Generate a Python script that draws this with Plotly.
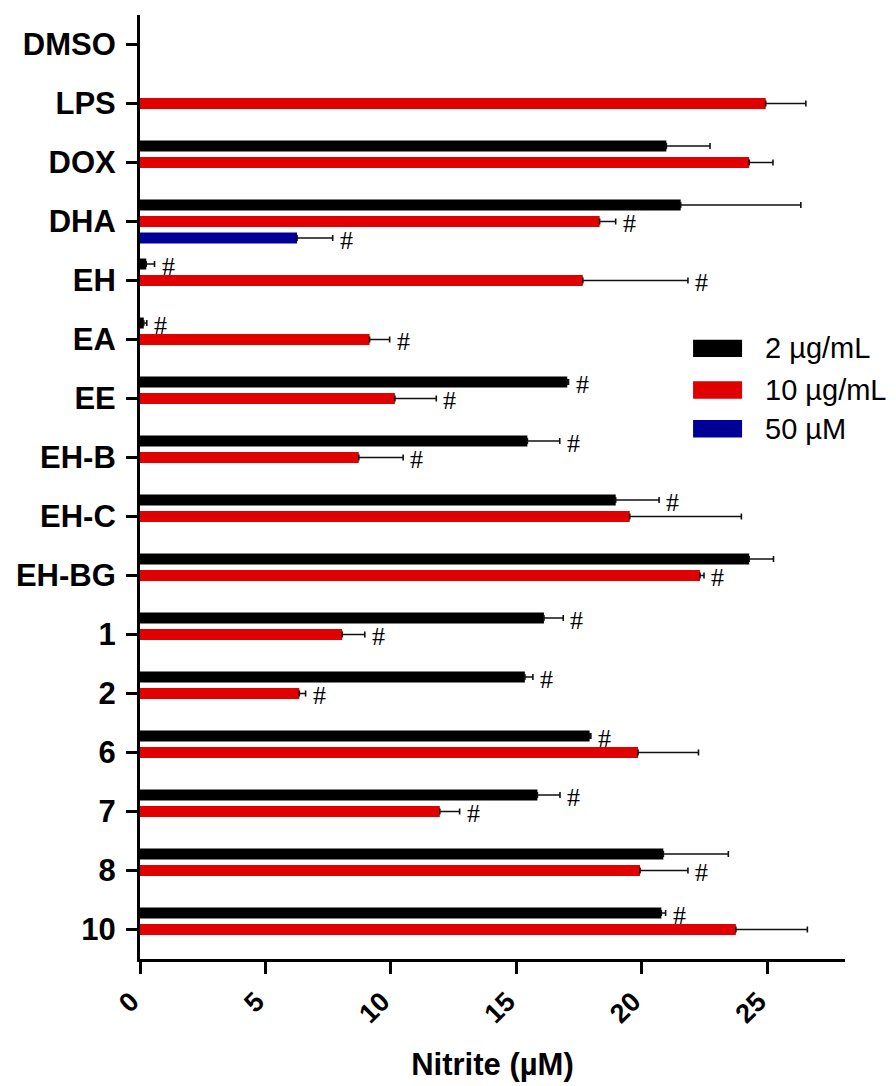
import plotly.graph_objects as go

categories = ["DMSO", "LPS", "DOX", "DHA", "EH", "EA", "EE", "EH-B", "EH-C",
              "EH-BG", "1", "2", "6", "7", "8", "10"]

# 2 µg/mL (black)
black_vals = [None, None, 20.98, 21.55, 0.25, 0.15, 17.03, 15.44, 18.96,
              24.28, 16.10, 15.34, 17.92, 15.84, 20.86, 20.78]
black_err = [0, 0, 1.74, 4.79, 0.33, 0.12, 0.05, 1.29, 1.73,
             0.97, 0.77, 0.32, 0.05, 0.90, 2.59, 0.17]
black_hash = [False, False, False, False, True, True, True, True, True,
              False, True, True, True, True, False, True]

# 10 µg/mL (red)
red_vals = [None, 24.94, 24.28, 18.32, 17.65, 9.15, 10.16, 8.72, 19.52,
            22.32, 8.06, 6.35, 19.85, 11.95, 19.93, 23.75]
red_err = [0, 1.60, 0.95, 0.64, 4.19, 0.80, 1.65, 1.77, 4.45,
           0.16, 0.90, 0.25, 2.41, 0.79, 1.91, 2.85]
red_hash = [False, False, False, True, True, True, True, True, False,
            True, True, True, False, True, True, False]

# 50 µM (blue)
blue_vals = [None, None, None, 6.26, None, None, None, None, None,
             None, None, None, None, None, None, None]
blue_err = [0, 0, 0, 1.42, 0, 0, 0, 0, 0, 0, 0, 0, 0, 0, 0, 0]
blue_hash = [False, False, False, True, False, False, False, False, False,
             False, False, False, False, False, False, False]

series_names = ["2 µg/mL", "10 µg/mL", "50 µM"]
series_colors = ["#000000", "#e00000", "#000099"]

x_ticks = [0, 5, 10, 15, 20, 25]

FONT = "Liberation Sans, Arial, sans-serif"

fig = go.Figure()
all_series = [
    (black_vals, black_err, black_hash),
    (red_vals, red_err, red_hash),
    (blue_vals, blue_err, blue_hash),
]
for (vals, errs, _), name, color in zip(all_series, series_names, series_colors):
    fig.add_trace(go.Bar(
        y=categories, x=vals, orientation="h", name=name,
        marker=dict(color=color, line=dict(width=0)),
        error_x=dict(type="data", symmetric=False, array=errs,
                     arrayminus=[0] * len(errs), color="#111111",
                     thickness=1.6, width=3),
        showlegend=False,
    ))

# significance marks (y given as category index)
slot_shift = [16.5, 0, -16.5]
for (vals, errs, hashes), ys in zip(all_series, slot_shift):
    for i, (v, e, h) in enumerate(zip(vals, errs, hashes)):
        if h and v is not None:
            fig.add_annotation(x=v + e, y=i, text="#", showarrow=False,
                               xanchor="left", yanchor="middle",
                               xshift=5, yshift=ys - 2,
                               font=dict(family="Liberation Serif, Times New Roman, serif",
                                         size=26, color="#000000"))

# legend drawn manually
leg_y = [0.6469, 0.6028, 0.5617]
for name, color, ly in zip(series_names, series_colors, leg_y):
    fig.add_shape(type="rect", xref="paper", yref="paper",
                  x0=0.7845, x1=0.854, y0=ly - 0.0092, y1=ly + 0.0092,
                  fillcolor=color, line=dict(width=0))
    fig.add_annotation(xref="paper", yref="paper", x=0.884, y=ly,
                       text=name, showarrow=False, xanchor="left",
                       yanchor="middle",
                       font=dict(family=FONT, size=29, color="#000000"))

# the page adds an 8px body margin, so the figure is sized to fit the window
fig.update_layout(
    width=888, height=1078,
    margin=dict(l=132, r=51, t=7, b=127),
    paper_bgcolor="white", plot_bgcolor="white",
    barmode="group", bargap=0.162, bargroupgap=0.333,
    font=dict(family=FONT, color="#000000"),
)
fig.update_xaxes(
    automargin=False,
    range=[0, 28.1], tickvals=x_ticks, ticktext=[str(t) for t in x_ticks],
    tickangle=-45, ticks="outside", ticklen=12, tickwidth=2.5,
    tickcolor="#000000", showline=True, linewidth=3, linecolor="#000000",
    showgrid=False, zeroline=False, ticklabelstandoff=1, ticklabelshift=-9,
    tickfont=dict(family=FONT, size=27, weight="bold", color="#000000"),
    title=dict(text="Nitrite (µM)", standoff=26,
               font=dict(family=FONT, size=31, weight="bold", color="#000000")),
)
fig.update_yaxes(
    automargin=False,
    type="category", categoryorder="array", categoryarray=categories,
    range=[15.5, -0.5], ticks="outside", ticklen=11, tickwidth=2.5,
    tickcolor="#000000", showline=True, linewidth=3, linecolor="#000000",
    showgrid=False, zeroline=False, ticklabelstandoff=4,
    tickfont=dict(family=FONT, size=31, weight="bold", color="#000000"),
)

fig.write_html("out.html")
